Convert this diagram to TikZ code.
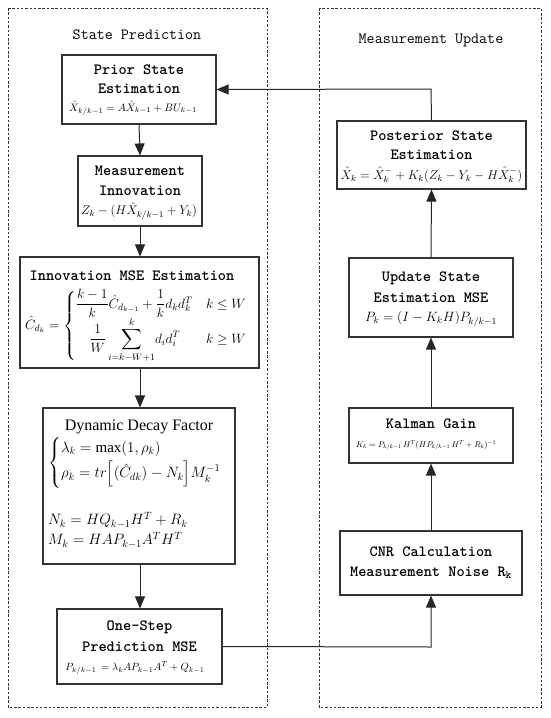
\documentclass[tikz,border=0pt]{standalone}
\usepackage{fix-cm}
\usepackage{amsmath}
\usepackage{graphicx}
\usepackage{fontspec}
\setmainfont{Liberation Serif}
\usetikzlibrary{arrows.meta}
\begin{document}
\begin{tikzpicture}[x=1pt,y=-1pt,
 frame/.style={draw=black!80, line width=0.8pt, dash pattern=on 2.5pt off 1.8pt},
 blk/.style={draw=black!80, line width=1.1pt, inner sep=0pt, fill=white},
 ttl/.style={font=\fontsize{15.6}{17}\selectfont\ttfamily\bfseries, inner sep=0pt},
 hdr/.style={font=\fontsize{15.6}{17}\selectfont\ttfamily, inner sep=0pt},
 eq/.style={inner sep=0pt, font=\fontsize{11.5}{13}\selectfont},
 conn/.style={draw=black!85, line width=1pt},
 arr/.style={conn, -{Triangle[length=12pt,width=10pt]}}
]
\useasboundingbox (0,0) rectangle (550,718);
\draw[frame] (8,8) rectangle (267,707);
\draw[frame] (319,8) rectangle (541,707);
\node[hdr] (hl) at (137,35) {State Prediction};
\node[hdr] (hr) at (431,40) {Measurement Update};

% left column boxes
\node[blk, minimum width=154pt, minimum height=69pt] (prior) at (139,89.5) {};
\node[ttl] (prior1) at (139,70) {Prior State};
\node[ttl] (prior2) at (139,89) {Estimation};
\node[eq, font=\fontsize{10.8}{12}\selectfont] (prior3) at (133,108) {$\hat{X}_{k/k-1}=A\hat{X}_{k-1}+BU_{k-1}$};

\node[blk, minimum width=124pt, minimum height=70pt] (innov) at (140,191) {};
\node[ttl] (innov1) at (140,171) {Measurement};
\node[ttl] (innov2) at (140,191) {Innovation};
\node[eq, font=\fontsize{12.6}{14}\selectfont] (innov3) at (139,211) {$Z_k-(H\hat{X}_{k/k-1}+Y_k)$};

\node[blk, minimum width=239pt, minimum height=111pt] (mse) at (139.5,312.5) {};
\node[ttl] (mse1) at (132,276) {Innovation MSE Estimation};
\node[eq, anchor=west, font=\fontsize{13.5}{15}\selectfont] (mse2) at (25,326)
 {$\hat{C}_{d_k}=\begin{cases}\dfrac{k-1}{k}\hat{C}_{d_{k-1}}+\dfrac{1}{k}d_kd_k^{T} & k\le W\\[2pt]
 \quad\dfrac{1}{W}\displaystyle\sum_{i=k-W+1}^{k}\!d_id_i^{T} & k\ge W\end{cases}$};

\node[blk, minimum width=192pt, minimum height=156pt] (dyn) at (139,486) {};
\node[inner sep=0pt, font=\fontsize{16}{18}\selectfont] (dyn1) at (139,427) {Dynamic Decay Factor};
\node[eq, anchor=west, font=\fontsize{15}{17}\selectfont] (dyn2) at (48,463)
 {$\begin{cases}\lambda_k=\max(1,\rho_k)\\[2pt]\rho_k=tr\Big[(\hat{C}_{dk})-N_k\Big]M_k^{-1}\end{cases}$};
\node[eq, anchor=west, font=\fontsize{15}{17}\selectfont] (dyn3) at (48,520) {$N_k=HQ_{k-1}H^{T}+R_k$};
\node[eq, anchor=west, font=\fontsize{15}{17}\selectfont] (dyn4) at (48,540) {$M_k=HAP_{k-1}A^{T}H^{T}$};

\node[blk, minimum width=165pt, minimum height=75pt] (one) at (139.5,646.5) {};
\node[ttl] (one1) at (139.5,627) {One-Step};
\node[ttl] (one2) at (139.5,647) {Prediction MSE};
\node[eq, font=\fontsize{10.4}{12}\selectfont] (one3) at (135,668) {$P_{k/k-1}\,=\lambda_kAP_{k-1}A^{T}+Q_{k-1}$};

% right column boxes
\node[blk, minimum width=189pt, minimum height=68pt] (post) at (431.5,155) {};
\node[ttl] (post1) at (431.5,136) {Posterior State};
\node[ttl] (post2) at (431.5,155) {Estimation};
\node[eq, font=\fontsize{12.7}{14}\selectfont] (post3) at (431.5,175) {$\hat{X}_k=\hat{X}_k^{-}+K_k(Z_k-Y_k-H\hat{X}_k^{-})$};

\node[blk, minimum width=164pt, minimum height=79pt] (upd) at (431,297.5) {};
\node[ttl] (upd1) at (431,278) {Update State};
\node[ttl] (upd2) at (431,298) {Estimation MSE};
\node[eq, font=\fontsize{13.5}{15}\selectfont] (upd3) at (431,319) {$P_k=(I-K_kH)P_{k/k-1}$};

\node[blk, minimum width=164pt, minimum height=55pt] (kal) at (431,435.5) {};
\node[ttl] (kal1) at (431,424) {Kalman Gain};
\node[eq] (kal2) at (426,445) {\resizebox{140pt}{!}{$K_k=P_{k/k-1}\,H^{T}(HP_{k/k-1}\,H^{T}+R_k)^{-1}$}};

\node[blk, minimum width=182pt, minimum height=64pt] (cnr) at (431,563) {};
\node[ttl] (cnr1) at (431,552) {CNR Calculation};
\node[ttl] (cnr2) at (431,573) {Measurement Noise R\textsubscript{k}};

% connectors
\draw[arr] (prior.south) -- (innov.north);
\draw[arr] (innov.south) -- (mse.north -| innov.south);
\draw[arr] (mse.south -| innov.south) -- (dyn.north -| innov.south);
\draw[arr] (dyn.south -| innov.south) -- (one.north -| innov.south);
\coordinate (c1) at (431,647);
\draw[arr] (one.east) -- (c1) -- (cnr.south);
\draw[arr] (cnr.north) -- (kal.south);
\draw[arr] (kal.north) -- (upd.south);
\draw[arr] (upd.north) -- (post.south);
\coordinate (c2) at (431,89);
\draw[arr] (post.north) -- (c2) -- (prior.east);
\end{tikzpicture}
\end{document}
